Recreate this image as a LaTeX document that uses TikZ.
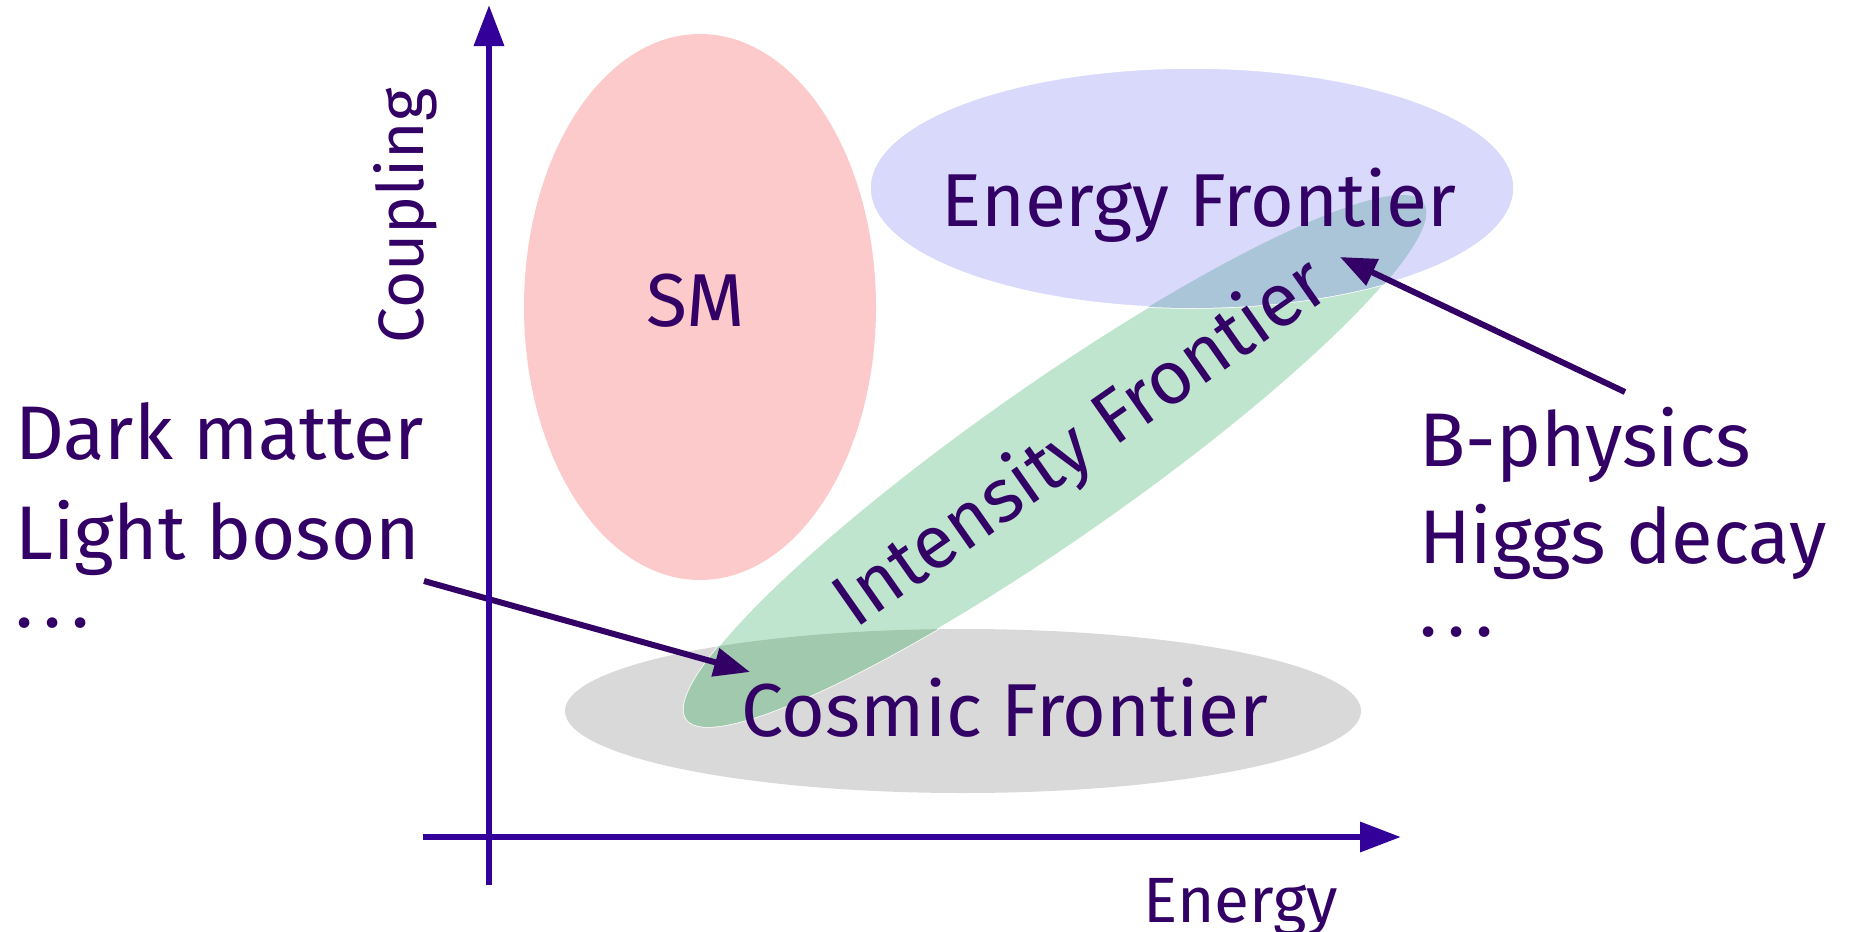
\documentclass[tikz,border=0pt]{standalone}
\usepackage{fontspec}
\setmainfont{Fira Sans}
\usetikzlibrary{arrows.meta}
\definecolor{txt}{RGB}{51,0,102}
\definecolor{axiscol}{RGB}{51,0,153}
\definecolor{pinkf}{RGB}{252,202,202}
\definecolor{bluef}{RGB}{217,217,252}
\definecolor{greyf}{RGB}{217,217,217}
\definecolor{greenf}{RGB}{192,229,207}
\definecolor{greengrey}{RGB}{161,201,173}
\definecolor{greenblue}{RGB}{169,197,215}
\begin{document}
\begin{tikzpicture}[x=1pt,y=-1pt,
  big/.style={font=\fontsize{75}{90}\selectfont, text=txt, inner sep=0pt, anchor=base},
  side/.style={font=\fontsize{76}{90}\selectfont, text=txt, inner sep=0pt, anchor=base west},
  axlabel/.style={font=\fontsize{64}{80}\selectfont, text=txt, inner sep=0pt, anchor=base},
  axisline/.style={draw=axiscol, line width=6.5pt, -{Triangle[length=41pt,width=29pt]}},
  pointer/.style={draw=txt, line width=6pt, -{Triangle[length=36pt,width=28pt]}},
  region/.style={draw=white, line width=1.5pt}
]
\useasboundingbox (0,0) rectangle (1856,932);
% regions
\path[fill=pinkf] (700,307) ellipse [x radius=176, y radius=273];
\path[fill=greyf] (963,711) ellipse [x radius=398, y radius=82];
\path[region, fill=greenf, rotate around={35:(1055,461)}] (1055,461) ellipse [x radius=450, y radius=78];
\path[region, fill=bluef] (1192,188) ellipse [x radius=322, y radius=120];
\begin{scope}
  \clip[rotate around={35:(1055,461)}] (1055,461) ellipse [x radius=450, y radius=78];
  \fill[greengrey] (963,711) ellipse [x radius=398, y radius=82];
  \fill[greenblue] (1192,188) ellipse [x radius=322, y radius=120];
\end{scope}
% pointers
\coordinate (p1s) at (424,581);
\coordinate (p1e) at (750,672);
\coordinate (p2s) at (1625,392);
\coordinate (p2e) at (1340,257);
\draw[pointer] (p1s) -- (p1e);
\draw[pointer] (p2s) -- (p2e);
% axes
\coordinate (ybot) at (489,885);
\coordinate (ytop) at (489,5);
\coordinate (xl) at (423,837);
\coordinate (xr) at (1401,837);
\draw[axisline] (ybot) -- (ytop);
\draw[axisline] (xl) -- (xr);
% labels
\node[big] (sm) at (696,326) {SM};
\node[big] (ef) at (1199,226) {Energy Frontier};
\node[big] (cf) at (1005,736) {Cosmic Frontier};
\node[big, rotate=35] (if) at (1094,462) {Intensity Frontier};
\node[axlabel, rotate=90] (coup) at (423,216) {Coupling};
\node[axlabel] (en) at (1241,922) {Energy};
\node[side] (dm) at (15,459) {Dark matter};
\node[side] (lb) at (15,559) {Light boson};
\node[side] (ld) at (15,627) {.\hspace{10pt}.\hspace{10pt}.};
\node[side] (bp) at (1419,466) {B-physics};
\node[side] (hd) at (1419,563) {Higgs decay};
\node[side] (rd) at (1419,636) {.\hspace{10pt}.\hspace{10pt}.};
\end{tikzpicture}
\end{document}
